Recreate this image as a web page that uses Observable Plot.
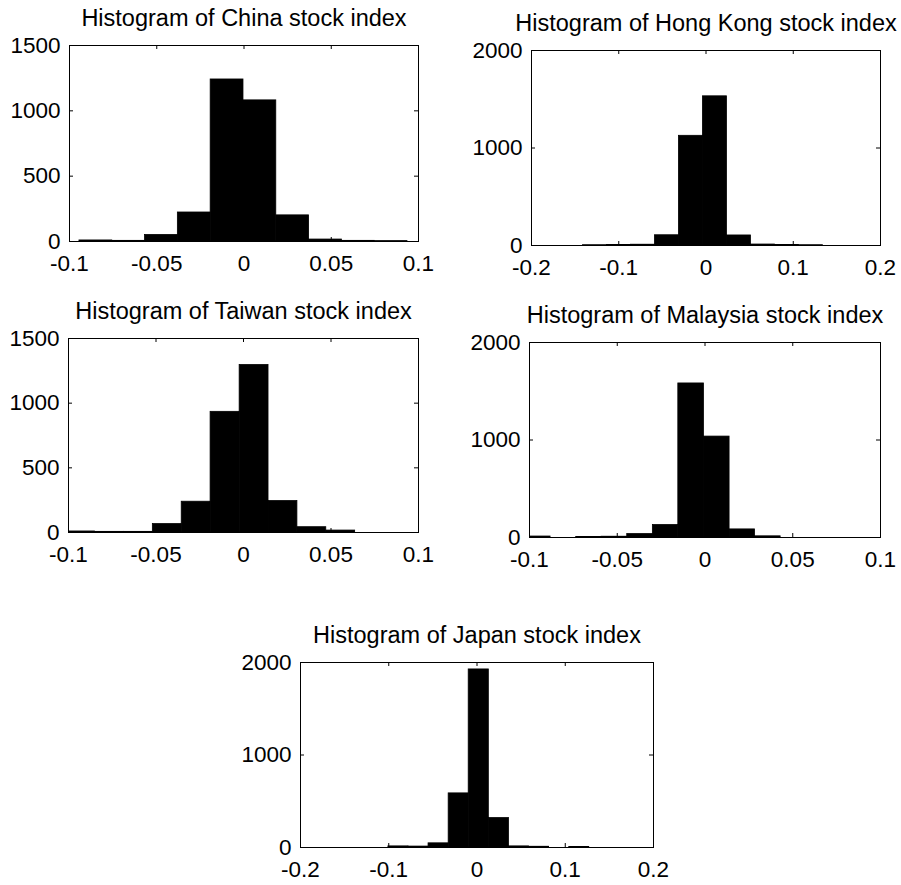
<!DOCTYPE html>
<html>
<head>
<meta charset="utf-8">
<script src="https://cdn.jsdelivr.net/npm/d3@7"></script>
<script src="https://cdn.jsdelivr.net/npm/@observablehq/plot@0.6"></script>
<style>
  html, body { margin: 0; padding: 0; background: #fff; }
  #page { position: relative; width: 901px; height: 885px; overflow: hidden; background: #fff; }
  #page svg { position: absolute; overflow: visible; }
</style>
</head>
<body>
<div id="page"></div>
<script>
// Daily return histograms: 10 bins per market (bin edges and counts)
const chinaEdges = [-0.0943, -0.0755, -0.0567, -0.0379, -0.0191, -0.0003, 0.0185, 0.0373, 0.0561, 0.0749, 0.0937];
const chinaCounts = [8, 5, 50, 222, 1240, 1080, 200, 15, 5, 3];

const hongKongEdges = [-0.141, -0.1135, -0.086, -0.0585, -0.031, -0.0035, 0.024, 0.0515, 0.079, 0.1065, 0.134];
const hongKongCounts = [3, 5, 8, 105, 1125, 1530, 103, 10, 5, 3];

const taiwanEdges = [-0.1014, -0.0849, -0.0684, -0.0518, -0.0353, -0.0188, -0.0022, 0.0143, 0.0308, 0.0473, 0.0638];
const taiwanCounts = [8, 5, 5, 65, 238, 933, 1295, 243, 41, 15];

const malaysiaEdges = [-0.1025, -0.088, -0.0734, -0.0589, -0.0443, -0.0297, -0.0152, -0.0006, 0.014, 0.0285, 0.0431];
const malaysiaCounts = [10, 0, 5, 8, 35, 128, 1580, 1035, 83, 12];

const japanEdges = [-0.1004, -0.0776, -0.0549, -0.0321, -0.0094, 0.0134, 0.0362, 0.0589, 0.0817, 0.1045, 0.1272];
const japanCounts = [12, 10, 45, 585, 1925, 318, 12, 8, 0, 5];

// Tick values
const xTicksNarrow = [-0.1, -0.05, 0, 0.05, 0.1];
const xTicksWide = [-0.2, -0.1, 0, 0.1, 0.2];
const yTicks1500 = [0, 500, 1000, 1500];
const yTicks2000 = [0, 1000, 2000];

// Titles
const titles = [
  "Histogram of China stock index",
  "Histogram of Hong Kong stock index",
  "Histogram of Taiwan stock index",
  "Histogram of Malaysia stock index",
  "Histogram of Japan stock index"
];

// Panel layout: plot-frame box on the page [left, right, top, bottom]
const panels = [
  {title: titles[0], edges: chinaEdges, counts: chinaCounts, xTicks: xTicksNarrow, yTicks: yTicks1500, box: [69, 418, 45, 241]},
  {title: titles[1], edges: hongKongEdges, counts: hongKongCounts, xTicks: xTicksWide, yTicks: yTicks2000, box: [531, 880, 50, 245]},
  {title: titles[2], edges: taiwanEdges, counts: taiwanCounts, xTicks: xTicksNarrow, yTicks: yTicks1500, box: [68, 418, 338, 532]},
  {title: titles[3], edges: malaysiaEdges, counts: malaysiaCounts, xTicks: xTicksNarrow, yTicks: yTicks2000, box: [529, 880, 342, 537]},
  {title: titles[4], edges: japanEdges, counts: japanCounts, xTicks: xTicksWide, yTicks: yTicks2000, box: [300, 653, 662, 847]}
];

const mL = 80, mR = 30, mT = 50, mB = 45;
const page = document.getElementById("page");
const fmt = d => String(d);
const ink = "#000";

for (const p of panels) {
  const [left, right, top, bottom] = p.box;
  const fw = right - left, fh = bottom - top;
  const xDomain = [p.xTicks[0], p.xTicks[p.xTicks.length - 1]];
  const yDomain = [p.yTicks[0], p.yTicks[p.yTicks.length - 1]];
  const tickLen = 4;

  const svg = Plot.plot({
    width: fw + mL + mR,
    height: fh + mT + mB,
    marginLeft: mL, marginRight: mR, marginTop: mT, marginBottom: mB,
    style: {fontFamily: "'Liberation Sans', Arial, sans-serif", fontSize: "22px", color: ink, background: "transparent"},
    x: {domain: xDomain},
    y: {domain: yDomain},
    marks: [
      Plot.rectY(p.counts, {
        x1: (d, i) => p.edges[i],
        x2: (d, i) => p.edges[i + 1],
        y: d => d,
        fill: ink,
        stroke: ink,
        strokeWidth: 0.8,
        clip: true
      }),
      // inward ticks on all four sides
      Plot.tickX(p.xTicks, {x: d => d, insetTop: fh - tickLen, stroke: ink}),
      Plot.tickX(p.xTicks, {x: d => d, insetBottom: fh - tickLen, stroke: ink}),
      Plot.tickY(p.yTicks, {y: d => d, insetRight: fw - tickLen, stroke: ink}),
      Plot.tickY(p.yTicks, {y: d => d, insetLeft: fw - tickLen, stroke: ink}),
      Plot.frame({stroke: ink, strokeWidth: 1}),
      Plot.axisX({ticks: p.xTicks, tickSize: 0, tickPadding: 14, tickFormat: fmt, label: null, fontSize: 22.5}),
      Plot.axisY({ticks: p.yTicks, tickSize: 0, tickPadding: 9, tickFormat: fmt, label: null, fontSize: 22.5}),
      Plot.text([p.title], {text: d => d, frameAnchor: "top", dy: -20, lineAnchor: "bottom", fontSize: 23.5, fill: ink})
    ]
  });
  svg.style.left = (left - mL) + "px";
  svg.style.top = (top - mT) + "px";
  page.appendChild(svg);
}
</script>
</body>
</html>
